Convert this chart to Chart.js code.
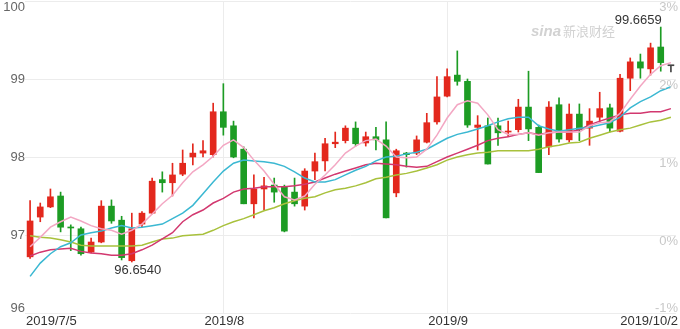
<!DOCTYPE html>
<html lang="zh-CN">
<head>
<meta charset="utf-8">
<title>美元指数 日K</title>
<script src="https://cdn.jsdelivr.net/npm/chart.js@4.4.1/dist/chart.umd.min.js"></script>
<style>
  html, body { margin: 0; padding: 0; background: #fff; }
  #wrap { width: 680px; height: 329px; position: relative; }
</style>
</head>
<body>
<div id="wrap"><canvas id="kChart"></canvas></div>
<script>
const dates = [
    '2019/7/5', '2019/7/8', '2019/7/9', '2019/7/10', '2019/7/11', '2019/7/12',
    '2019/7/15', '2019/7/16', '2019/7/17', '2019/7/18', '2019/7/19',
    '2019/7/22', '2019/7/23', '2019/7/24', '2019/7/25', '2019/7/26',
    '2019/7/29', '2019/7/30', '2019/7/31',
    '2019/8/1', '2019/8/2', '2019/8/5', '2019/8/6', '2019/8/7', '2019/8/8', '2019/8/9',
    '2019/8/12', '2019/8/13', '2019/8/14', '2019/8/15', '2019/8/16',
    '2019/8/19', '2019/8/20', '2019/8/21', '2019/8/22', '2019/8/23',
    '2019/8/26', '2019/8/27', '2019/8/28', '2019/8/29', '2019/8/30',
    '2019/9/2', '2019/9/3', '2019/9/4', '2019/9/5', '2019/9/6',
    '2019/9/9', '2019/9/10', '2019/9/11', '2019/9/12', '2019/9/13',
    '2019/9/16', '2019/9/17', '2019/9/18', '2019/9/19', '2019/9/20',
    '2019/9/23', '2019/9/24', '2019/9/25', '2019/9/26', '2019/9/27',
    '2019/9/30', '2019/10/1', '2019/10/2'
];

const opens = [
    96.72, 97.23, 97.36, 97.50, 97.10, 97.08, 96.78, 96.91, 97.37, 97.19,
    96.67, 97.14, 97.28, 97.71, 97.67, 97.78, 98.00, 98.05, 98.03, 98.58,
    98.40, 98.10, 97.40, 97.59, 97.64, 97.62, 97.55, 97.37, 97.82, 97.95,
    98.17, 98.21, 98.37, 98.18, 98.26, 98.22, 97.54, 98.05, 98.05, 98.19,
    98.45, 98.78, 99.05, 98.97, 98.38, 98.40, 98.40, 98.32, 98.35, 98.64,
    98.38, 98.13, 98.67, 98.22, 98.55, 98.37, 98.51, 98.63, 98.33, 99.01,
    99.22, 99.13, 99.41, 99.17
];
const highs = [
    97.44, 97.41, 97.59, 97.55, 97.13, 97.10, 96.96, 97.44, 97.45, 97.24,
    97.28, 97.30, 97.73, 97.81, 97.92, 98.09, 98.17, 98.21, 98.69, 98.94,
    98.46, 98.13, 97.77, 97.74, 97.73, 97.64, 97.73, 97.85, 98.05, 98.24,
    98.32, 98.40, 98.45, 98.32, 98.38, 98.45, 98.10, 98.06, 98.27, 98.56,
    99.03, 99.13, 99.36, 99.00, 98.53, 98.50, 98.50, 98.46, 98.74, 99.10,
    98.41, 98.71, 98.76, 98.68, 98.68, 98.62, 98.83, 98.68, 99.06, 99.27,
    99.32, 99.46, 99.6659, 99.17
];
const lows = [
    96.70, 97.17, 97.35, 97.04, 96.80, 96.74, 96.77, 96.90, 97.15, 96.68,
    96.654, 97.10, 97.27, 97.55, 97.50, 97.76, 97.90, 98.00, 98.00, 98.28,
    97.99, 97.40, 97.22, 97.32, 97.42, 97.04, 97.37, 97.32, 97.71, 97.82,
    98.12, 98.18, 98.14, 98.14, 98.09, 97.22, 97.49, 97.87, 98.03, 98.18,
    98.42, 98.77, 98.92, 98.38, 98.09, 97.91, 98.15, 98.26, 98.32, 98.21,
    97.80, 98.03, 98.19, 98.19, 98.21, 98.15, 98.45, 98.32, 98.32, 98.85,
    99.01, 99.05, 99.10, 99.09
];
const closes = [
    97.18, 97.36, 97.49, 97.10, 97.09, 96.76, 96.91, 97.37, 97.18, 96.71,
    97.08, 97.28, 97.69, 97.67, 97.77, 97.92, 98.05, 98.08, 98.58, 98.38,
    98.00, 97.40, 97.59, 97.63, 97.55, 97.05, 97.40, 97.82, 97.94, 98.17,
    98.19, 98.37, 98.17, 98.26, 98.22, 97.22, 98.08, 98.03, 98.22, 98.44,
    98.77, 99.03, 98.97, 98.41, 98.41, 97.91, 98.31, 98.33, 98.64, 98.36,
    97.80, 98.64, 98.23, 98.55, 98.35, 98.46, 98.62, 98.37, 99.01, 99.22,
    99.14, 99.40, 99.21, 99.17
];

// moving averages
const ma5 = [
    96.85, 96.97, 97.10, 97.17, 97.23, 97.18, 97.12, 97.08, 97.06, 97.01,
    97.06, 97.14, 97.27, 97.40, 97.51, 97.67, 97.81, 97.90, 98.01, 98.15,
    98.22, 98.12, 97.96, 97.82, 97.65, 97.49, 97.45, 97.50, 97.65, 97.77,
    97.90, 98.05, 98.14, 98.21, 98.23, 98.14, 98.00, 97.99, 98.00, 98.10,
    98.28, 98.50, 98.67, 98.72, 98.69, 98.54, 98.35, 98.29, 98.29, 98.31,
    98.28, 98.31, 98.32, 98.32, 98.32, 98.40, 98.44, 98.45, 98.56, 98.74,
    98.91, 99.06, 99.17, 99.21
];
const ma10 = [
    96.47, 96.64, 96.76, 96.85, 96.90, 97.00, 97.03, 97.05, 97.09, 97.12,
    97.09, 97.10, 97.12, 97.14, 97.21, 97.28, 97.38, 97.53, 97.68, 97.82,
    97.92, 97.96, 97.95, 97.94, 97.92, 97.88, 97.81, 97.73, 97.68, 97.68,
    97.71, 97.77, 97.83, 97.88, 97.95, 98.00, 98.01, 98.04, 98.06, 98.10,
    98.17, 98.24, 98.29, 98.32, 98.36, 98.40, 98.45, 98.49, 98.51, 98.51,
    98.40, 98.36, 98.33, 98.35, 98.37, 98.38, 98.41, 98.44, 98.51, 98.63,
    98.71, 98.77, 98.85, 98.90
];
const ma20 = [
    96.73, 96.78, 96.81, 96.82, 96.83, 96.79, 96.77, 96.76, 96.74, 96.74,
    96.76, 96.81, 96.87, 96.95, 97.03, 97.17, 97.26, 97.32, 97.41, 97.47,
    97.55, 97.59, 97.60, 97.62, 97.62, 97.62, 97.63, 97.65, 97.68, 97.73,
    97.78, 97.82, 97.86, 97.90, 97.92, 97.91, 97.90, 97.88, 97.87, 97.88,
    97.94, 98.00, 98.05, 98.10, 98.15, 98.21, 98.24, 98.26, 98.29, 98.31,
    98.29, 98.31, 98.32, 98.32, 98.35, 98.41, 98.46, 98.50, 98.54, 98.56,
    98.56, 98.58, 98.58, 98.62
];
const ma30 = [
    96.99, 96.97, 96.96, 96.94, 96.91, 96.87, 96.86, 96.86, 96.86, 96.86,
    96.86, 96.87, 96.91, 96.95, 96.96, 96.99, 97.00, 97.01, 97.06, 97.12,
    97.17, 97.21, 97.26, 97.31, 97.35, 97.40, 97.44, 97.47, 97.49, 97.54,
    97.58, 97.60, 97.63, 97.67, 97.72, 97.74, 97.77, 97.79, 97.82, 97.86,
    97.90, 97.96, 98.00, 98.03, 98.05, 98.06, 98.08, 98.08, 98.08, 98.08,
    98.10, 98.13, 98.15, 98.18, 98.19, 98.24, 98.28, 98.32, 98.35, 98.37,
    98.41, 98.45, 98.47, 98.51
];

const yTicks = [100, 99, 98, 97, 96];
const pctTicks = ['3%', '2%', '1%', '0%', '-1%'];
const xTickIndex = [0, 19, 41, 63];
const xTickText = ['2019/7/5', '2019/8', '2019/9', '2019/10/2'];
const minIndex = 10, minText = '96.6540';
const maxIndex = 62, maxText = '99.6659';

const COLOR_UP = '#e3281d';
const COLOR_DOWN = '#1d9c24';
const COLOR_FLAT = '#444444';
const FONT = '"Liberation Sans", Arial, sans-serif';

function candleColor(i) {
    if (closes[i] > opens[i]) return COLOR_UP;
    if (closes[i] < opens[i]) return COLOR_DOWN;
    return COLOR_FLAT;
}

const candleColors = dates.map((d, i) => candleColor(i));

// axis labels, extreme marks and watermark drawn by hand
const labelPlugin = {
    id: 'labelPlugin',
    afterDraw(chart) {
        const { ctx, scales: { x, y } } = chart;
        ctx.save();
        ctx.font = '13px ' + FONT;

        // left price labels
        ctx.fillStyle = '#666';
        ctx.textAlign = 'right';
        yTicks.forEach((v, k) => {
            const py = y.getPixelForValue(v);
            if (k === 0) { ctx.textBaseline = 'top'; ctx.fillText(v, 25, py); }
            else if (k === yTicks.length - 1) { ctx.textBaseline = 'alphabetic'; ctx.fillText(v, 25, py - 1); }
            else { ctx.textBaseline = 'middle'; ctx.fillText(v, 25, py); }
        });

        // right percent labels
        ctx.fillStyle = '#c8c8c8';
        yTicks.forEach((v, k) => {
            const py = y.getPixelForValue(v);
            if (k === yTicks.length - 1) { ctx.textBaseline = 'alphabetic'; ctx.fillText(pctTicks[k], 678, py - 1); }
            else { ctx.textBaseline = 'top'; ctx.fillText(pctTicks[k], 678, py); }
        });

        // date labels
        ctx.fillStyle = '#333';
        ctx.textBaseline = 'top';
        xTickIndex.forEach((idx, k) => {
            const px = x.getPixelForValue(idx);
            if (k === 0) { ctx.textAlign = 'left'; ctx.fillText(xTickText[k], px - 4, 315); }
            else if (k === xTickIndex.length - 1) { ctx.textAlign = 'right'; ctx.fillText(xTickText[k], 678, 315); }
            else { ctx.textAlign = 'center'; ctx.fillText(xTickText[k], px + 1, 315); }
        });

        // min / max marks
        ctx.fillStyle = '#333';
        ctx.textAlign = 'center';
        ctx.textBaseline = 'top';
        ctx.fillText(minText, x.getPixelForValue(minIndex) + 6, y.getPixelForValue(lows[minIndex]) + 2);
        ctx.textAlign = 'right';
        ctx.textBaseline = 'alphabetic';
        ctx.fillText(maxText, x.getPixelForValue(maxIndex) + 1, y.getPixelForValue(highs[maxIndex]) - 3);

        // watermark
        ctx.fillStyle = '#d2d2d2';
        ctx.textAlign = 'left';
        ctx.font = 'italic bold 15px ' + FONT;
        ctx.fillText('sina', 531, 36);
        ctx.font = '13px "Noto Sans CJK SC", sans-serif';
        ctx.fillText('新浪财经', 563, 36);
        ctx.restore();
    }
};

function maLine(data, color) {
    return {
        type: 'line',
        data: data,
        borderColor: color,
        borderWidth: 1.5,
        pointRadius: 0,
        tension: 0,
        order: 0
    };
}

const ctx = document.getElementById('kChart').getContext('2d');
new Chart(ctx, {
    type: 'bar',
    data: {
        labels: dates,
        datasets: [
            maLine(ma5, '#f3a7c3'),
            maLine(ma10, '#3bb8d2'),
            maLine(ma20, '#d2386f'),
            maLine(ma30, '#a8c13c'),
            {
                data: opens.map((o, i) => [o, closes[i]]),
                backgroundColor: candleColors,
                barThickness: 6,
                minBarLength: 1,
                grouped: false,
                order: 1
            },
            {
                data: lows.map((l, i) => [l, highs[i]]),
                backgroundColor: candleColors,
                barThickness: 1,
                grouped: false,
                order: 2
            }
        ]
    },
    options: {
        responsive: true,
        maintainAspectRatio: false,
        animation: false,
        events: [],
        layout: { padding: { top: 1, right: 4, left: 0, bottom: 0 } },
        plugins: {
            legend: { display: false },
            tooltip: { enabled: false }
        },
        scales: {
            x: {
                ticks: { display: false, autoSkip: false },
                grid: {
                    offset: false,
                    drawTicks: false,
                    color: c => (c.index === 19 || c.index === 41) ? '#ececec' : 'rgba(0,0,0,0)'
                },
                border: { display: false },
                afterFit: s => { s.height = 16; }
            },
            y: {
                min: 96,
                max: 100,
                ticks: { display: false, stepSize: 1 },
                grid: { drawTicks: false, color: '#ececec' },
                border: { display: false },
                afterFit: s => { s.width = 25; }
            }
        }
    },
    plugins: [labelPlugin]
});
</script>
</body>
</html>
